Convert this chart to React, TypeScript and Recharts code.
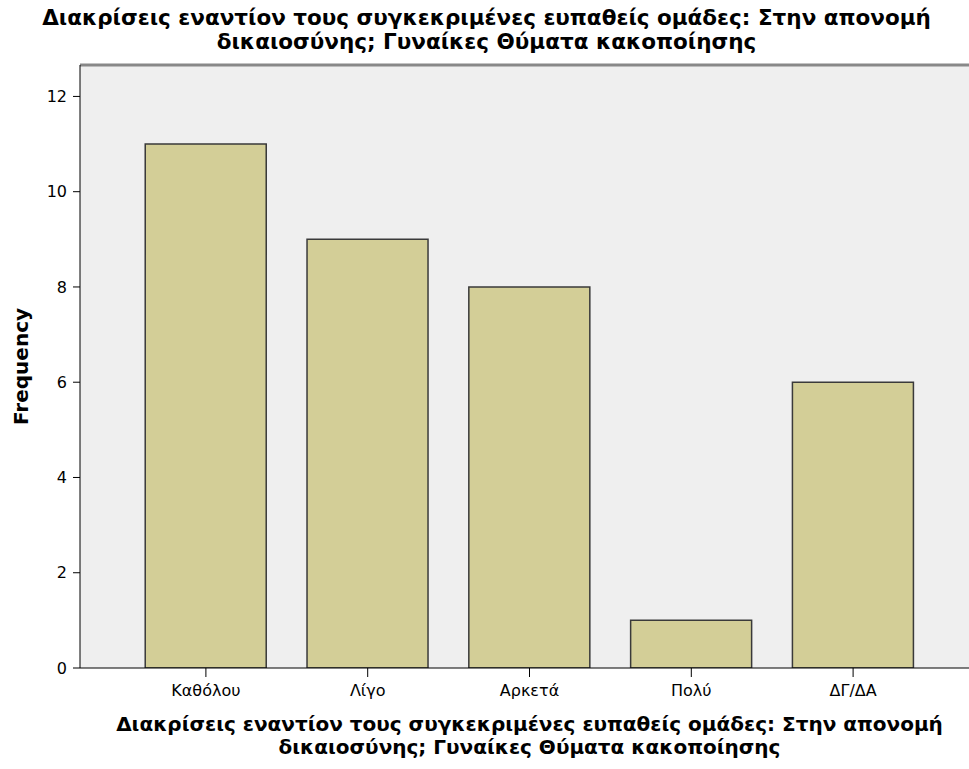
import { BarChart, Bar, XAxis, YAxis, CartesianGrid, ReferenceLine } from "recharts";

const categories = ["Καθόλου", "Λίγο", "Αρκετά", "Πολύ", "ΔΓ/ΔΑ"];
const frequencies = [11, 9, 8, 1, 6];
const yTicks = [0, 2, 4, 6, 8, 10, 12];

const titleLines = [
  "Διακρίσεις εναντίον τους συγκεκριμένες ευπαθείς ομάδες: Στην απονομή",
  "δικαιοσύνης; Γυναίκες Θύματα κακοποίησης",
];

const data = categories.map((name, i) => ({ name, value: frequencies[i] }));

const font = "'DejaVu Sans', sans-serif";

export default function App() {
  return (
    <div
      style={{
        position: "absolute",
        left: 0,
        top: 0,
        width: 969,
        height: 769,
        overflow: "hidden",
        background: "#fff",
        fontFamily: font,
      }}
    >
      <div
        style={{
          position: "absolute",
          left: 0,
          width: 973,
          top: 6,
          textAlign: "center",
          fontWeight: "bold",
          fontSize: 21.5,
          lineHeight: "24px",
          whiteSpace: "nowrap",
        }}
      >
        {titleLines.map((l) => (
          <div key={l}>{l}</div>
        ))}
      </div>
      <BarChart
        width={1000}
        height={769}
        data={data}
        margin={{ top: 65, right: 21, left: 0, bottom: 0 }}
        barCategoryGap="12.5%"
      >
        <CartesianGrid fill="#efefef" stroke="none" />
        <XAxis
          dataKey="name"
          height={101}
          padding={{ left: 45, right: 45 }}
          stroke="#000"
          tickSize={9}
          tickMargin={8}
          tick={{ fill: "#000", fontSize: 16, fontFamily: font }}
        />
        <YAxis
          width={80}
          domain={[0, 12.66]}
          ticks={yTicks}
          allowDataOverflow
          stroke="#000"
          tickSize={7}
          tickMargin={6}
          tick={{ fill: "#000", fontSize: 16, fontFamily: font }}
          label={{
            value: "Frequency",
            angle: -90,
            position: "insideLeft",
            dx: 16,
            style: { fontWeight: "bold", fontSize: 20, fill: "#000", fontFamily: font, textAnchor: "middle" },
          }}
        />
        <ReferenceLine y={12.66} stroke="#888" strokeWidth={3} />
        <Bar
          dataKey="value"
          fill="#d3ce97"
          stroke="#3a3a3a"
          strokeWidth={1.5}
          isAnimationActive={false}
        />
      </BarChart>
      <div
        style={{
          position: "absolute",
          left: 80,
          width: 899,
          top: 713,
          textAlign: "center",
          fontWeight: "bold",
          fontSize: 20,
          lineHeight: "23px",
        }}
      >
        {titleLines.map((l) => (
          <div key={l}>{l}</div>
        ))}
      </div>
    </div>
  );
}
